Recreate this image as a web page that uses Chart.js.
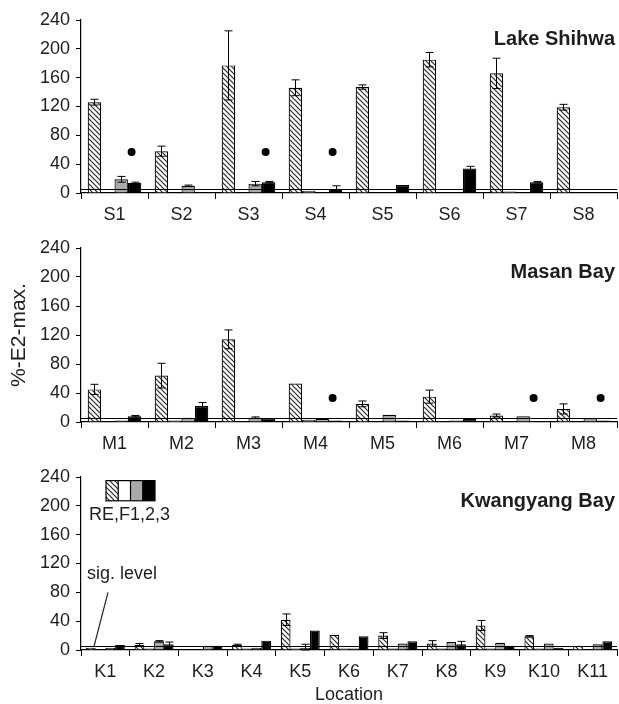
<!DOCTYPE html>
<html><head><meta charset="utf-8">
<script src="https://cdn.jsdelivr.net/npm/chart.js@4.4.1/dist/chart.umd.min.js"></script>
<style>
html,body{margin:0;padding:0;background:#fff;}
#wrap{position:relative;width:619px;height:704px;overflow:hidden;}
canvas{position:absolute;left:0;display:block;}
</style></head><body>
<div id="wrap">
<canvas id="c1" width="619" height="228" style="top:0px"></canvas>
<canvas id="c2" width="619" height="228" style="top:228px"></canvas>
<canvas id="c3" width="619" height="248" style="top:456px"></canvas>
</div>
<script>
// ---------- data ----------
const yTickStep = 40;
const yMax = 240;
const sigLevel = 5;

const shihwaLabels = ['S1','S2','S3','S4','S5','S6','S7','S8'];
const shihwaRE    = [126, 58, 177, 146, 147, 185, 166, 119];
const shihwaREerr = [4, 7, 48, 11, 3, 10, 21, 4];
const shihwaF1    = [1, 0, 1, 3, 1, 1, 2, 1];
const shihwaF2    = [19, 10, 13, 1, 1, 0, 0, 0];
const shihwaF2err = [4, 1, 3, 0, 0, 0, 0, 0];
const shihwaF3    = [14, 0, 15, 6, 11, 34, 15, 0];
const shihwaF3err = [1, 0, 1, 4, 0, 3, 1, 0];
const shihwaDots  = [57, null, 57, 57, null, null, null, null];

const masanLabels = ['M1','M2','M3','M4','M5','M6','M7','M8'];
const masanRE    = [45, 64, 114, 53, 25, 35, 9, 18];
const masanREerr = [7, 17, 13, 0, 4, 9, 2, 7];
const masanF1    = [1, 2, 1, 3, 1, 1, 1, 1];
const masanF2    = [2, 6, 6, 4, 10, 2, 8, 5];
const masanF2err = [0, 0, 1, 0, 0, 0, 0, 0];
const masanF3    = [8, 22, 5, 2, 2, 4, 1, 2];
const masanF3err = [1, 5, 0, 0, 0, 0, 0, 0];
const masanDots  = [null, null, null, 33, null, null, 33, 33];

const kwangLabels = ['K1','K2','K3','K4','K5','K6','K7','K8','K9','K10','K11'];
const kwangRE    = [3, 7, 1, 7, 42, 21, 20, 9, 34, 19, 6];
const kwangREerr = [0, 2, 0, 1, 8, 0, 4, 4, 7, 1, 0];
const kwangF1    = [1, 2, 0, 2, 2, 2, 2, 2, 2, 2, 1];
const kwangF2    = [3, 12, 6, 3, 3, 2, 9, 11, 10, 9, 8];
const kwangF2err = [0, 1, 0, 0, 5, 0, 0, 0, 0, 0, 0];
const kwangF3    = [7, 8, 6, 13, 27, 19, 12, 8, 6, 3, 12];
const kwangF3err = [0, 3, 0, 0, 0, 0, 0, 4, 0, 0, 0];
const kwangDots  = [null, null, null, null, null, null, null, null, null, null, null];

const legendText = 'RE,F1,2,3';
const sigText = 'sig. level';
const yTitle = '%-E2-max.';
const xTitle = 'Location';

// ---------- styles ----------
const FONT = "'Liberation Sans', Arial, Helvetica, sans-serif";
const TXT = '#1e1e1e';
const GRAY = '#a9a9a9';

function makeHatch() {
  const c = document.createElement('canvas');
  const s = 5;
  c.width = s; c.height = s;
  const g = c.getContext('2d');
  g.fillStyle = '#fff'; g.fillRect(0, 0, s, s);
  g.strokeStyle = '#2a2a2a'; g.lineWidth = 1.2;
  g.beginPath();
  g.moveTo(-1, -1); g.lineTo(s + 1, s + 1);
  g.moveTo(-1, s - 1); g.lineTo(1, s + 1);
  g.moveTo(s - 1, -1); g.lineTo(s + 1, 1);
  g.stroke();
  return document.createElement('canvas').getContext('2d').createPattern(c, 'repeat');
}
const hatch = makeHatch();

const overlay = {
  id: 'overlay',
  afterDatasetsDraw(chart, args, opts) {
    const { ctx, chartArea: a } = chart;
    const y = chart.scales.y;
    ctx.save();
    ctx.strokeStyle = '#000';
    ctx.lineWidth = 1;
    // sig level line
    const ys = Math.round(y.getPixelForValue(sigLevel)) + 0.5;
    ctx.beginPath(); ctx.moveTo(a.left, ys); ctx.lineTo(a.right, ys); ctx.stroke();
    // error bars
    chart.data.datasets.forEach((ds, di) => {
      if (!ds.err) return;
      const meta = chart.getDatasetMeta(di);
      meta.data.forEach((el, i) => {
        const e = ds.err[i];
        if (!e) return;
        const v = ds.data[i];
        const yt = y.getPixelForValue(v + e);
        const yb = y.getPixelForValue(Math.max(v - e, 0));
        const x = Math.round(el.x) + 0.5;
        ctx.beginPath();
        ctx.moveTo(x, yt); ctx.lineTo(x, yb);
        ctx.moveTo(x - 4, yt); ctx.lineTo(x + 4, yt);
        ctx.moveTo(x - 4, yb); ctx.lineTo(x + 4, yb);
        ctx.stroke();
      });
    });
    // dots
    if (opts.dots) {
      const meta = chart.getDatasetMeta(3);
      ctx.fillStyle = '#000';
      opts.dots.forEach((d, i) => {
        if (d == null) return;
        const el = meta.data[i];
        ctx.beginPath();
        ctx.arc(el.x - 3, y.getPixelForValue(d), 4, 0, Math.PI * 2);
        ctx.fill();
      });
    }
    // panel title
    ctx.fillStyle = TXT;
    ctx.font = 'bold 20px ' + FONT;
    ctx.textAlign = 'right';
    ctx.textBaseline = 'alphabetic';
    ctx.fillText(opts.title, a.right - 2, a.top + opts.titleDy);
    // legend + sig label
    if (opts.legend) {
      const fills = [hatch, '#fff', GRAY, '#000'];
      const yT = y.getPixelForValue(235), yB = y.getPixelForValue(207);
      const x0 = a.left + 25, w = 12.25;
      fills.forEach((f, k) => {
        ctx.fillStyle = f;
        ctx.fillRect(x0 + k * w, yT, w, yB - yT);
      });
      ctx.strokeStyle = '#000'; ctx.lineWidth = 1.2;
      ctx.strokeRect(x0, yT, w * 4, yB - yT);
      ctx.beginPath();
      for (let k = 1; k < 4; k++) { ctx.moveTo(x0 + k * w, yT); ctx.lineTo(x0 + k * w, yB); }
      ctx.stroke();
      ctx.fillStyle = TXT;
      ctx.font = '18px ' + FONT;
      ctx.textAlign = 'left';
      ctx.fillText(legendText, a.left + 8, y.getPixelForValue(180));
      ctx.fillText(sigText, a.left + 6, y.getPixelForValue(99));
      ctx.strokeStyle = '#222'; ctx.lineWidth = 1.2;
      ctx.beginPath();
      ctx.moveTo(a.left + 27, y.getPixelForValue(80));
      ctx.lineTo(a.left + 13, y.getPixelForValue(sigLevel));
      ctx.stroke();
    }
    ctx.restore();
  }
};

function makePanel(id, p) {
  const base = { borderColor: '#000', borderWidth: 1.2, categoryPercentage: 0.8, barPercentage: 1.0 };
  return new Chart(document.getElementById(id), {
    type: 'bar',
    data: {
      labels: p.labels,
      datasets: [
        Object.assign({ label: 'RE', data: p.re, err: p.reErr, backgroundColor: hatch }, base),
        Object.assign({ label: 'F1', data: p.f1, backgroundColor: '#fff' }, base),
        Object.assign({ label: 'F2', data: p.f2, err: p.f2Err, backgroundColor: GRAY }, base),
        Object.assign({ label: 'F3', data: p.f3, err: p.f3Err, backgroundColor: '#000' }, base)
      ]
    },
    options: {
      responsive: false,
      animation: false,
      devicePixelRatio: 1,
      layout: { padding: { top: p.padTop, left: 0, right: 2, bottom: 0 } },
      plugins: {
        legend: { display: false },
        tooltip: { enabled: false },
        overlay: { dots: p.dots, title: p.title, titleDy: p.titleDy, legend: !!p.legend }
      },
      scales: {
        x: {
          grid: { display: true, drawOnChartArea: false, drawTicks: true, tickLength: 6, color: '#000', lineWidth: 1, offset: true },
          border: { display: true, color: '#000', width: 1.2 },
          ticks: { color: TXT, font: { size: 18, family: FONT }, padding: 5, maxRotation: 0, autoSkip: false },
          title: p.xTitle ? { display: true, text: p.xTitle, color: TXT, font: { size: 18, family: FONT, lineHeight: 1 }, padding: { top: 0, bottom: 0 } } : { display: false },
          afterFit: s => { s.height = p.xH; }
        },
        y: {
          min: 0, max: yMax,
          grid: { display: true, drawOnChartArea: false, drawTicks: true, tickLength: 5, color: '#000' },
          border: { display: true, color: '#000', width: 1.2 },
          ticks: { stepSize: yTickStep, color: TXT, font: { size: 18, family: FONT }, padding: 6 },
          title: p.yTitle ? { display: true, text: p.yTitle, color: TXT, font: { size: 21, family: FONT }, padding: { top: 7, bottom: 0 } } : { display: false },
          afterFit: s => { s.width = 81; }
        }
      }
    },
    plugins: [overlay]
  });
}

makePanel('c1', { labels: shihwaLabels, re: shihwaRE, reErr: shihwaREerr, f1: shihwaF1, f2: shihwaF2, f2Err: shihwaF2err, f3: shihwaF3, f3Err: shihwaF3err, dots: shihwaDots, title: 'Lake Shihwa', titleDy: 25, padTop: 20, xH: 35 });
makePanel('c2', { labels: masanLabels, re: masanRE, reErr: masanREerr, f1: masanF1, f2: masanF2, f2Err: masanF2err, f3: masanF3, f3Err: masanF3err, dots: masanDots, title: 'Masan Bay', titleDy: 30, padTop: 20, xH: 34, yTitle: yTitle });
makePanel('c3', { labels: kwangLabels, re: kwangRE, reErr: kwangREerr, f1: kwangF1, f2: kwangF2, f2Err: kwangF2err, f3: kwangF3, f3Err: kwangF3err, dots: kwangDots, title: 'Kwangyang Bay', titleDy: 30, padTop: 21, xH: 54, xTitle: xTitle, legend: true });
</script>
</body></html>
